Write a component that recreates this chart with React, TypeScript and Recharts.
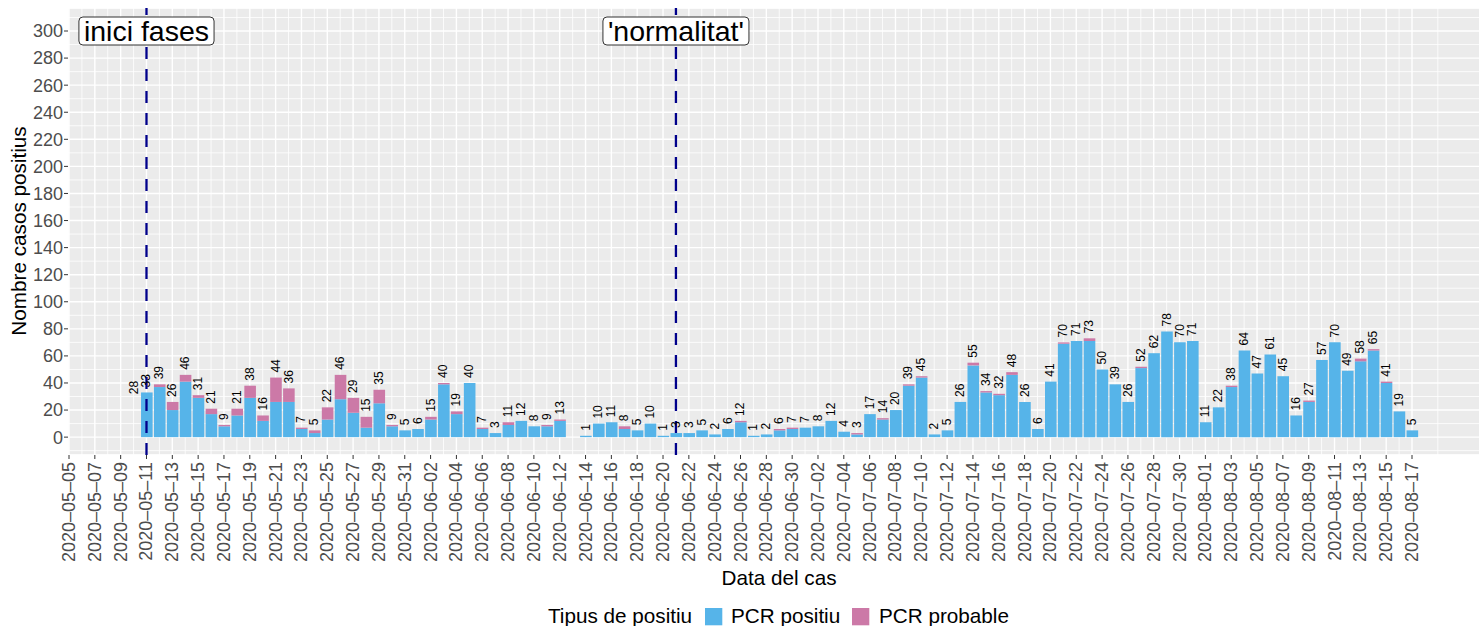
import { useLayoutEffect, useRef, useState } from "react";
import {
  Bar,
  CartesianGrid,
  ComposedChart,
  Line,
  ReferenceDot,
  ReferenceLine,
  XAxis,
  YAxis
} from "recharts";

// dates with cases (2020-06-13 has no record)
const caseDates = [
  "2020-05-10", "2020-05-11", "2020-05-12", "2020-05-13", "2020-05-14", "2020-05-15", "2020-05-16", "2020-05-17",
  "2020-05-18", "2020-05-19", "2020-05-20", "2020-05-21", "2020-05-22", "2020-05-23", "2020-05-24", "2020-05-25",
  "2020-05-26", "2020-05-27", "2020-05-28", "2020-05-29", "2020-05-30", "2020-05-31",
  "2020-06-01", "2020-06-02", "2020-06-03", "2020-06-04", "2020-06-05", "2020-06-06", "2020-06-07", "2020-06-08",
  "2020-06-09", "2020-06-10", "2020-06-11", "2020-06-12", "2020-06-14", "2020-06-15", "2020-06-16", "2020-06-17",
  "2020-06-18", "2020-06-19", "2020-06-20", "2020-06-21", "2020-06-22", "2020-06-23", "2020-06-24", "2020-06-25",
  "2020-06-26", "2020-06-27", "2020-06-28", "2020-06-29", "2020-06-30",
  "2020-07-01", "2020-07-02", "2020-07-03", "2020-07-04", "2020-07-05", "2020-07-06", "2020-07-07", "2020-07-08",
  "2020-07-09", "2020-07-10", "2020-07-11", "2020-07-12", "2020-07-13", "2020-07-14", "2020-07-15", "2020-07-16",
  "2020-07-17", "2020-07-18", "2020-07-19", "2020-07-20", "2020-07-21", "2020-07-22", "2020-07-23", "2020-07-24",
  "2020-07-25", "2020-07-26", "2020-07-27", "2020-07-28", "2020-07-29", "2020-07-30", "2020-07-31",
  "2020-08-01", "2020-08-02", "2020-08-03", "2020-08-04", "2020-08-05", "2020-08-06", "2020-08-07", "2020-08-08",
  "2020-08-09", "2020-08-10", "2020-08-11", "2020-08-12", "2020-08-13", "2020-08-14", "2020-08-15", "2020-08-16",
  "2020-08-17"
];

const pcrPositiu = [
  null, 33, 37, 20, 41, 29, 17, 8, 16, 29, 12, 26, 26, 6, 3, 13, 28, 18, 7, 25, 8, 5,
  6, 13, 39, 17, 40, 6, 3, 9, 12, 8, 8, 12, 1, 10, 11, 6, 5, 10, 1, 3, 3, 5, 2, 6, 11, 1, 2, 5, 6,
  7, 8, 12, 4, 2, 17, 13, 20, 38, 44, 2, 5, 26, 53, 33, 31, 46, 26, 6, 41, 69, 71, 71, 50, 39, 26, 51, 62, 78, 70, 71,
  11, 22, 37, 64, 47, 61, 45, 16, 26, 57, 70, 49, 56, 64, 40, 19, 5
];

const pcrProbable = [
  null, 0, 2, 6, 5, 2, 4, 1, 5, 9, 4, 18, 10, 1, 2, 9, 18, 11, 8, 10, 1, 0,
  0, 2, 1, 2, 0, 1, 0, 2, 0, 0, 1, 1, 0, 0, 0, 2, 0, 0, 0, 0, 0, 0, 0, 0, 1, 0, 0, 1, 1,
  0, 0, 0, 0, 1, 0, 1, 0, 1, 1, 0, 0, 0, 2, 1, 1, 2, 0, 0, 0, 1, 0, 2, 0, 0, 0, 1, 0, 0, 0, 0,
  0, 0, 1, 0, 0, 0, 0, 0, 1, 0, 0, 0, 2, 1, 1, 0, 0
];

// total printed without a bar
const unplottedTotals: Record<string, number> = { "2020-05-10": 28 };

const dateTicks = [
  "2020-05-05", "2020-05-07", "2020-05-09", "2020-05-11", "2020-05-13", "2020-05-15", "2020-05-17", "2020-05-19",
  "2020-05-21", "2020-05-23", "2020-05-25", "2020-05-27", "2020-05-29", "2020-05-31",
  "2020-06-02", "2020-06-04", "2020-06-06", "2020-06-08", "2020-06-10", "2020-06-12", "2020-06-14", "2020-06-16",
  "2020-06-18", "2020-06-20", "2020-06-22", "2020-06-24", "2020-06-26", "2020-06-28", "2020-06-30",
  "2020-07-02", "2020-07-04", "2020-07-06", "2020-07-08", "2020-07-10", "2020-07-12", "2020-07-14", "2020-07-16",
  "2020-07-18", "2020-07-20", "2020-07-22", "2020-07-24", "2020-07-26", "2020-07-28", "2020-07-30",
  "2020-08-01", "2020-08-03", "2020-08-05", "2020-08-07", "2020-08-09", "2020-08-11", "2020-08-13", "2020-08-15",
  "2020-08-17"
];

const yTicks = [0, 20, 40, 60, 80, 100, 120, 140, 160, 180, 200, 220, 240, 260, 280, 300];

const phaseDates = ["2020-05-11", "2020-06-21"];
const phaseLabels = ["inici fases", "'normalitat'"];
const phaseLabelY = 300;

const BLUE = "#56B4E9";
const PINK = "#CC79A7";
const FONT = "'Liberation Sans', Arial, Helvetica, sans-serif";
const TITLE_SIZE = 20.7;

const dayIndex = (d: string) => Math.round((Date.parse(d) - Date.parse(dateTicks[0])) / 86400000);

const data = caseDates.map((d, i) => {
  const p = pcrPositiu[i];
  const q = pcrProbable[i];
  return {
    day: dayIndex(d),
    positiu: p,
    probable: q,
    total: p == null ? unplottedTotals[d] ?? null : p + (q ?? 0)
  };
});

const majorX = dateTicks.map(dayIndex);
const minorX = [...majorX.map((t) => t + 1), majorX[majorX.length - 1] + 2];
const minorY = [-10, ...yTicks.map((t) => t + 10)];
const labelByDay = new Map(dateTicks.map((d) => [dayIndex(d), d]));

const xDomain = [-0.078, 110.04];
const yDomain = [-13.2, 317];

function DateTick({ x, y, payload }: any) {
  const label = labelByDay.get(payload.value) ?? "";
  return (
    <text
      x={x}
      y={y}
      transform={`rotate(-90 ${x} ${y})`}
      textAnchor="end"
      dominantBaseline="central"
      fontSize={18}
      fill="#4D4D4D"
      fontFamily={FONT}
    >
      {label.replace(/-/g, "\u2013")}
    </text>
  );
}

function TotalLabel(props: any) {
  const x = props.x ?? props.viewBox?.x;
  const y = props.y ?? props.viewBox?.y;
  if (props.value == null || x == null || y == null) return null;
  const ty = y - 5;
  return (
    <text
      x={x}
      y={ty}
      transform={`rotate(-90 ${x} ${ty})`}
      textAnchor="start"
      dominantBaseline="central"
      fontSize={12}
      fill="#000"
      fontFamily={FONT}
    >
      {props.value}
    </text>
  );
}

function BoxLabel({ viewBox, text }: any) {
  const ref = useRef<SVGTextElement>(null);
  const [w, setW] = useState(0);
  useLayoutEffect(() => {
    if (ref.current) setW(ref.current.getBBox().width);
  }, [text]);
  if (!viewBox) return null;
  const cx = viewBox.x + viewBox.width / 2;
  const cy = viewBox.y + viewBox.height / 2;
  const fs = 28.5;
  const h = 28;
  return (
    <g>
      {w > 0 && (
        <rect
          x={cx - w / 2 - 5}
          y={cy - h / 2}
          width={w + 10}
          height={h}
          rx={4}
          fill="#fff"
          stroke="#333"
          strokeWidth={1}
        />
      )}
      <text ref={ref} x={cx} y={cy + fs * 0.36} textAnchor="middle" fontSize={fs} fill="#000" fontFamily={FONT}>
        {text}
      </text>
    </g>
  );
}

export default function App() {
  return (
    <div
      style={{
        position: "absolute",
        left: 0,
        top: 0,
        width: 1479,
        height: 626,
        overflow: "hidden",
        background: "#fff",
        fontFamily: FONT
      }}
    >
      <ComposedChart width={1500} height={626} data={data} margin={{ top: 8, right: 10, bottom: 51, left: 0 }}>
        <CartesianGrid xAxisId="minor" yAxisId="minor" stroke="#fff" strokeWidth={0.8} fill="#EBEBEB" fillOpacity={1} />
        <CartesianGrid stroke="#fff" strokeWidth={1.4} />
        <XAxis
          dataKey="day"
          type="number"
          domain={xDomain}
          allowDataOverflow
          ticks={majorX}
          interval={0}
          height={120}
          axisLine={false}
          tickLine={{ stroke: "#333" }}
          tickSize={4}
          tickMargin={3}
          tick={<DateTick />}
        />
        <XAxis xAxisId="minor" dataKey="day" type="number" domain={xDomain} allowDataOverflow ticks={minorX} hide />
        <YAxis
          type="number"
          domain={yDomain}
          allowDataOverflow
          ticks={yTicks}
          interval={0}
          width={68}
          axisLine={false}
          tickLine={{ stroke: "#333" }}
          tickSize={4}
          tickMargin={1}
          tick={{ fill: "#4D4D4D", fontSize: 18, fontFamily: FONT }}
        />
        <YAxis yAxisId="minor" type="number" domain={yDomain} allowDataOverflow ticks={minorY} hide />
        <Bar dataKey="positiu" stackId="a" fill={BLUE} barSize={11.6} isAnimationActive={false} />
        <Bar dataKey="probable" stackId="a" fill={PINK} barSize={11.6} isAnimationActive={false} />
        <Line
          dataKey="total"
          stroke="none"
          dot={false}
          activeDot={false}
          label={TotalLabel}
          isAnimationActive={false}
        />
        {phaseDates.map((d) => (
          <ReferenceLine
            key={d}
            segment={[
              { x: dayIndex(d), y: yDomain[0] },
              { x: dayIndex(d), y: yDomain[1] }
            ]}
            stroke="#00008B"
            strokeWidth={2.3}
            strokeDasharray="12 10"
          />
        ))}
        {phaseDates.map((d, i) => (
          <ReferenceDot
            key={`l${d}`}
            x={dayIndex(d)}
            y={phaseLabelY}
            r={1}
            fill="none"
            stroke="none"
            label={<BoxLabel text={phaseLabels[i]} />}
          />
        ))}
      </ComposedChart>
      <svg width={1479} height={626} style={{ position: "absolute", left: 0, top: 0, pointerEvents: "none" }}>
        <text
          x={18}
          y={231}
          transform="rotate(-90 18 231)"
          textAnchor="middle"
          dominantBaseline="central"
          fontSize={TITLE_SIZE}
          fill="#000"
          fontFamily={FONT}
        >
          Nombre casos positius
        </text>
        <text x={779} y={585} textAnchor="middle" fontSize={TITLE_SIZE} fill="#000" fontFamily={FONT}>
          Data del cas
        </text>
        <text x={548} y={623} fontSize={TITLE_SIZE} fill="#000" fontFamily={FONT}>
          Tipus de positiu
        </text>
        <rect x={705} y={608} width={17.3} height={17.3} fill={BLUE} />
        <text x={731} y={623} fontSize={TITLE_SIZE} fill="#000" fontFamily={FONT}>
          PCR positiu
        </text>
        <rect x={852} y={608} width={17.3} height={17.3} fill={PINK} />
        <text x={879} y={623} fontSize={TITLE_SIZE} fill="#000" fontFamily={FONT}>
          PCR probable
        </text>
      </svg>
    </div>
  );
}
